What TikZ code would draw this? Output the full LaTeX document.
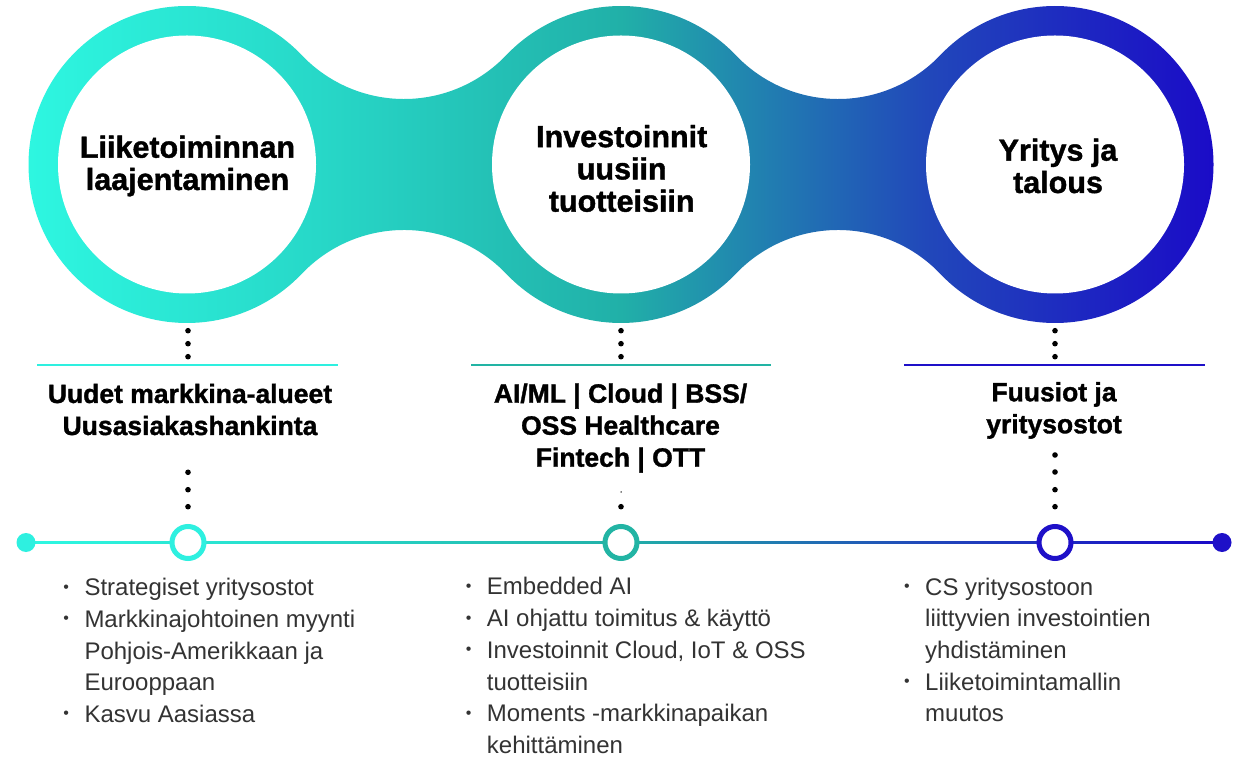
\documentclass[tikz,border=0pt]{standalone}
\usepackage{fontspec}
\setmainfont{Liberation Sans}
\newfontfamily\heavyfont{Liberation Sans Bold}[FakeBold=1.3]
\usetikzlibrary{calc}
\definecolor{g0}{HTML}{2EF8E2}
\definecolor{g1}{HTML}{27D8C8}
\definecolor{g2}{HTML}{21B0A8}
\definecolor{g3}{HTML}{2148BA}
\definecolor{g4}{HTML}{1A08C8}
\definecolor{cL}{HTML}{2EF0E0}
\definecolor{cM}{HTML}{22B4A4}
\definecolor{cR}{HTML}{1E10C8}
\definecolor{bodytext}{HTML}{333333}
\pgfdeclarehorizontalshading{ringgrad}{100bp}{color(0bp)=(g0); color(25bp)=(g0); color(37.5bp)=(g1); color(50bp)=(g2); color(62.5bp)=(g3); color(75bp)=(g4); color(100bp)=(g4)}
\newcommand{\mybul}{\makebox[0pt][r]{\raisebox{3.6pt}{\fontsize{16}{16}\selectfont •}\hspace{15.5pt}}}
\tikzset{
  headtxt/.style={align=center, anchor=base, text=black, font=\fontsize{30.5}{32.3}\selectfont\heavyfont, inner sep=0},
  subtxt/.style={align=center, anchor=base, text=black, font=\fontsize{26.5}{32}\selectfont\heavyfont, inner sep=0},
  listtxt/.style={align=left, anchor=base west, text=bodytext, font=\fontsize{24}{31.7}\selectfont, inner sep=0},
  vdot/.style={circle, fill=black, inner sep=0, minimum size=5.6pt},
  tlring/.style={circle, draw, line width=5pt, fill=white, minimum size=32pt, inner sep=0},
  enddot/.style={circle, inner sep=0, minimum size=19pt},
  subline/.style={line width=2.5pt},
}
\begin{document}
\begin{tikzpicture}[x=1pt,y=1pt]
\useasboundingbox (0,0) rectangle (1244,758);
\fill[white] (0,0) rectangle (1244,758);
% big ring shape
\coordinate (C1) at (187,593.5);
\coordinate (C2) at (621,593.5);
\coordinate (C3) at (1055,593.5);
\shade[shading=ringgrad] ($(C1)+(43.6:158.5)$)
  arc[start angle=43.6, end angle=316.4, radius=158.5]
  arc[start angle=136.4, end angle=43.6, radius=141.17]
  arc[start angle=223.6, end angle=316.4, radius=158.5]
  arc[start angle=136.4, end angle=43.6, radius=141.17]
  arc[start angle=223.6, end angle=496.4, radius=158.5]
  arc[start angle=316.4, end angle=223.6, radius=141.17]
  arc[start angle=43.6, end angle=136.4, radius=158.5]
  arc[start angle=316.4, end angle=223.6, radius=141.17]
  -- cycle;
\foreach \c in {C1,C2,C3} \fill[white] (\c) circle[radius=129];
% headings (anchor = baseline of last line)
\node[headtxt] (h1) at (187.5,568) {Liiketoiminnan\\laajentaminen};
\node[headtxt] (h2) at (621.7,546.3) {Investoinnit\\uusiin\\tuotteisiin};
\node[headtxt] (h3) at (1058,565) {Yritys ja\\talous};
% dots above sublines
\foreach \x/\n in {188/a,621/b,1055/c}{
  \node[vdot] (\n1) at (\x,427.3) {};
  \node[vdot] (\n2) at (\x,414.3) {};
  \node[vdot] (\n3) at (\x,401.3) {};
}
% sublines
\coordinate (sl1a) at (37,393); \coordinate (sl1b) at (338,393);
\coordinate (sl2a) at (471,393); \coordinate (sl2b) at (771,393);
\coordinate (sl3a) at (904,393); \coordinate (sl3b) at (1205,393);
\draw[subline, cL] (sl1a) -- (sl1b);
\draw[subline, cM] (sl2a) -- (sl2b);
\draw[subline, cR] (sl3a) -- (sl3b);
% subheadings
\node[subtxt] (s1) at (190,323) {Uudet markkina-alueet\\Uusasiakashankinta};
\node[subtxt] (s2) at (620.5,291.3) {AI/ML | Cloud | BSS/\\OSS Healthcare\\Fintech | OTT};
\node[subtxt] (s3) at (1054,324.7) {Fuusiot ja\\yritysostot};
% dots below subheadings
\node[vdot] (ld1) at (188,285.7) {};
\node[vdot] (ld2) at (188,268.3) {};
\node[vdot] (ld3) at (188,251.3) {};
\node[vdot, minimum size=1.5pt] (md1) at (621,266) {};
\node[vdot] (md2) at (621,251.3) {};
\node[vdot] (rd1) at (1055,303) {};
\node[vdot] (rd2) at (1055,286) {};
\node[vdot] (rd3) at (1055,268.3) {};
\node[vdot] (rd4) at (1055,251.3) {};
% timeline
\coordinate (tL) at (26,215.5);
\coordinate (tR) at (1222,215.5);
\shade[shading=ringgrad] ($(tL)+(0,-1.25)$) rectangle ($(tR)+(0,1.25)$);
\node[enddot, fill=cL] (eL) at (tL) {};
\node[enddot, fill=cR] (eR) at (tR) {};
\node[tlring, draw=cL] (t1) at (188,215.5) {};
\node[tlring, draw=cM] (t2) at (621,215.5) {};
\node[tlring, draw=cR] (t3) at (1055,215.5) {};
% lists (anchor = baseline of last line)
\node[listtxt] (l1) at (84.3,35.6) {\mybul Strategiset yritysostot\\\mybul Markkinajohtoinen myynti\\Pohjois-Amerikkaan ja\\Eurooppaan\\\mybul Kasvu Aasiassa};
\node[listtxt] (l2) at (486.7,4.6) {\mybul Embedded AI\\\mybul AI ohjattu toimitus \& käyttö\\\mybul Investoinnit Cloud, IoT \& OSS\\tuotteisiin\\\mybul Moments -markkinapaikan\\kehittäminen};
\node[listtxt] (l3) at (925,36.2) {\mybul CS yritysostoon\\liittyvien investointien\\yhdistäminen\\\mybul Liiketoimintamallin\\muutos};
\end{tikzpicture}
\end{document}
